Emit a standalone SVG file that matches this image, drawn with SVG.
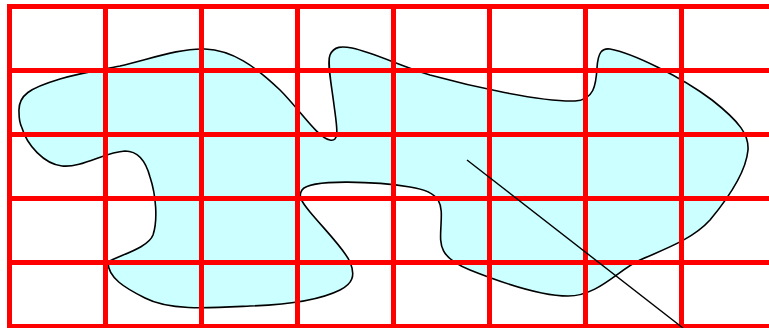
<svg xmlns="http://www.w3.org/2000/svg" width="769" height="328" viewBox="0 0 769 328">
<style>
.blob{fill:#CCFFFF;stroke:#000;stroke-width:1.6;stroke-linejoin:round}
.grid line{stroke:#FF0000;stroke-width:5}
.conn{stroke:#000;stroke-width:1.4;fill:none}
</style>
<rect width="769" height="328" fill="#fff"/>
<g id="region">
<path class="blob" d="M 19,112 C 18,95 30,88 60,79 C 80,73 100,70 120,66 C 150,59 180,48 205,49 C 232,50 255,66 280,90 C 300,110 318,138 330,140 C 340,142 337,128 334,105 C 331,82 327,62 330,55 C 334,46 342,46 352,48 C 375,53 400,66 430,75 C 470,86 540,102 575,101 C 594,100 596,85 597,68 C 598,52 602,48 610,49 C 632,53 680,76 712,100 C 740,122 749,135 748,150 C 746,172 730,196 710,220 C 692,240 662,250 640,260 C 618,270 598,296 568,296 C 540,296 500,282 470,270 C 438,257 440,245 441,225 C 442,205 443,192 410,187 C 380,182 310,178 302,190 C 298,196 301,201 310,212 C 325,230 345,250 350,262 C 356,276 352,284 340,290 C 318,301 280,305 250,306 C 210,308 170,311 145,298 C 125,288 108,278 108,262 C 120,255 148,248 153,235 C 158,220 156,195 150,177 C 146,162 138,151 125,151 C 105,152 82,168 62,166 C 44,164 27,145 22,128 C 19,122 19,116 19,112 Z"/>
</g>
<g id="grid" class="grid">
<line x1="7" y1="6.5" x2="769" y2="6.5"/>
<line x1="7" y1="70.5" x2="769" y2="70.5"/>
<line x1="7" y1="134.5" x2="769" y2="134.5"/>
<line x1="7" y1="198.5" x2="769" y2="198.5"/>
<line x1="7" y1="262.5" x2="769" y2="262.5"/>
<line x1="7" y1="326.5" x2="769" y2="326.5"/>
<line x1="9.5" y1="4" x2="9.5" y2="328"/>
<line x1="105.5" y1="4" x2="105.5" y2="328"/>
<line x1="201.5" y1="4" x2="201.5" y2="328"/>
<line x1="297.5" y1="4" x2="297.5" y2="328"/>
<line x1="393.5" y1="4" x2="393.5" y2="328"/>
<line x1="489.5" y1="4" x2="489.5" y2="328"/>
<line x1="585.5" y1="4" x2="585.5" y2="328"/>
<line x1="681.5" y1="4" x2="681.5" y2="328"/>
</g>
<g id="connectors">
<line class="conn" x1="467" y1="160" x2="683" y2="328"/>
</g>
</svg>
